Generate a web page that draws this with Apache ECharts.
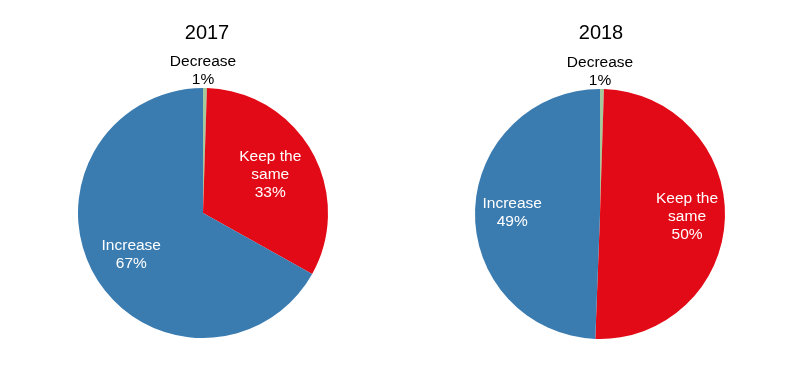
<!DOCTYPE html>
<html>
<head>
<meta charset="utf-8">
<script src="https://cdn.jsdelivr.net/npm/echarts@6/dist/echarts.min.js"></script>
<style>html,body{margin:0;padding:0;background:#fff;}#c{width:800px;height:378px;}</style>
</head>
<body>
<div id="c"></div>
<script>
const categories = ['Decrease', 'Keep the same', 'Increase'];
const labelNames = ['Decrease', 'Keep the\nsame', 'Increase'];
const years = ['2017', '2018'];
const values2017 = [0.5, 32.6, 66.9];
const values2018 = [0.5, 50.1, 49.4];

const colors = ['#a3c99c', '#e30a17', '#3a7bb0'];
const FONT = '"Liberation Sans", Arial, sans-serif';
const R = 125;
const centers = [[203, 213], [600, 214]];
const titleX = [202, 596];
// radial push of inside labels (style tuning), per pie
const labelPush = [[1, 1.18, 1.27], [1, 1.33, 1.34]];

const chart = echarts.init(document.getElementById('c'), null, {renderer: 'canvas'});

function makeLayout(pi) {
  const cx = centers[pi][0], cy = centers[pi][1];
  return function (p) {
    if (p.dataIndex === 0) {
      return {x: cx, y: cy - R + 1, align: 'center', verticalAlign: 'bottom'};
    }
    const lr = p.labelRect;
    const lx = lr.x + lr.width / 2, ly = lr.y + lr.height / 2;
    const k = labelPush[pi][p.dataIndex] - 1;
    return {dx: (lx - cx) * k, dy: (ly - cy) * k};
  };
}

function makeSeries(vals, pi) {
  return {
    type: 'pie',
    center: centers[pi],
    radius: [0, R],
    startAngle: 90,
    clockwise: true,
    silent: true,
    animation: false,
    avoidLabelOverlap: false,
    itemStyle: {borderWidth: 0},
    labelLine: {show: false, length: 0, length2: 0},
    labelLayout: makeLayout(pi),
    data: vals.map((v, i) => ({
      name: categories[i],
      value: v,
      itemStyle: {color: colors[i]},
      label: i === 0 ? {
        show: true, position: 'outside', color: '#000',
        fontFamily: FONT, fontSize: 15.5, lineHeight: 18,
        formatter: labelNames[i] + '\n' + Math.round(v) + '%'
      } : {
        show: true, position: 'inside', color: '#fff',
        fontFamily: FONT, fontSize: 15.5, lineHeight: 18,
        formatter: labelNames[i] + '\n' + Math.round(v) + '%'
      }
    }))
  };
}

chart.setOption({
  backgroundColor: '#fff',
  title: years.map((y, i) => ({
    text: y,
    left: titleX[i],
    top: 18,
    textAlign: 'center',
    textStyle: {fontFamily: FONT, fontSize: 20, fontWeight: 'normal', color: '#000'}
  })),
  series: [makeSeries(values2017, 0), makeSeries(values2018, 1)]
});
</script>
</body>
</html>
